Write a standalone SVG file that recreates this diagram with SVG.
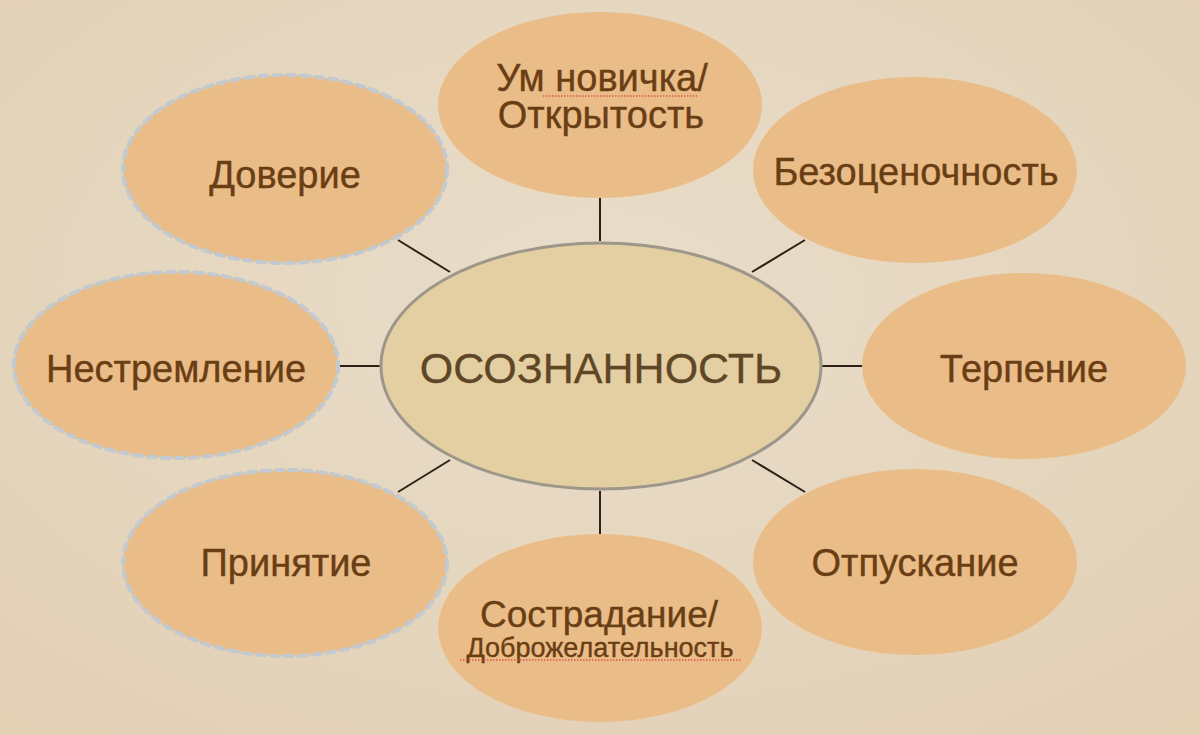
<svg xmlns="http://www.w3.org/2000/svg" width="1200" height="735" viewBox="0 0 1200 735">
<defs>
<radialGradient id="bg" cx="50%" cy="40%" r="75%">
<stop offset="0" stop-color="#e9ddca"/>
<stop offset="1" stop-color="#e2d0b5"/>
</radialGradient>
</defs>
<style>
.n{fill:#eabd88;}
.d{stroke:#c2c9cf;stroke-width:4;stroke-dasharray:8 6;stroke-linecap:round;}
.c{fill:#e3cfa1;stroke:#9d968b;stroke-width:3;}
.t{font-family:"Liberation Sans",Arial,sans-serif;fill:#6a3e14;stroke:#6a3e14;stroke-width:0.4;text-anchor:middle;}
.ct{font-family:"Liberation Sans",Arial,sans-serif;fill:#5f4626;stroke:#5f4626;stroke-width:0.3;text-anchor:middle;}
.k{stroke:#2e2218;stroke-width:2;fill:none;}
.sp{stroke:#e0564a;stroke-width:1.5;stroke-dasharray:1.5 1.5;fill:none;}
</style>
<rect width="1200" height="735" fill="url(#bg)"/>
<g id="connectors">
<line class="k" x1="600" y1="198" x2="600" y2="241"/>
<line class="k" x1="600" y1="491" x2="600" y2="534"/>
<line class="k" x1="338" y1="366" x2="380" y2="366"/>
<line class="k" x1="822" y1="366" x2="862" y2="366"/>
<line class="k" x1="398" y1="240" x2="450" y2="272"/>
<line class="k" x1="805" y1="240" x2="752" y2="272"/>
<line class="k" x1="450" y1="460" x2="398" y2="492"/>
<line class="k" x1="752" y1="460" x2="805" y2="492"/>
</g>
<g id="node-top">
<ellipse class="n" cx="600" cy="105" rx="162" ry="93"/>
<text class="t" x="602" y="91" font-size="38">Ум новичка/</text>
<text class="t" x="601" y="128" font-size="38">Открытость</text>
<line class="sp" x1="543" y1="96" x2="697" y2="96"/>
</g>
<g id="node-trust">
<ellipse class="n d" cx="285" cy="169" rx="162" ry="94"/>
<text class="t" x="285" y="188" font-size="38">Доверие</text>
</g>
<g id="node-nonjudging">
<ellipse class="n" cx="915" cy="170" rx="162" ry="93"/>
<text class="t" x="916" y="185" font-size="38">Безоценочность</text>
</g>
<g id="node-nonstriving">
<ellipse class="n d" cx="176" cy="365" rx="162" ry="93"/>
<text class="t" x="176" y="382" font-size="38">Нестремление</text>
</g>
<g id="node-patience">
<ellipse class="n" cx="1024" cy="366" rx="162" ry="93"/>
<text class="t" x="1024" y="382" font-size="38">Терпение</text>
</g>
<g id="node-acceptance">
<ellipse class="n d" cx="285" cy="563" rx="162" ry="93"/>
<text class="t" x="286" y="576" font-size="38">Принятие</text>
</g>
<g id="node-letting-go">
<ellipse class="n" cx="915" cy="562" rx="162" ry="93"/>
<text class="t" x="915" y="576" font-size="38">Отпускание</text>
</g>
<g id="node-bottom">
<ellipse class="n" cx="600" cy="628" rx="162" ry="94"/>
<text class="t" x="599" y="627" font-size="37">Сострадание/</text>
<text class="t" x="600" y="657" font-size="27">Доброжелательность</text>
<line class="sp" x1="460" y1="660" x2="742" y2="660"/>
</g>
<g id="node-center">
<ellipse class="c" cx="601" cy="366" rx="220" ry="123"/>
<text class="ct" x="601" y="383" font-size="43">ОСОЗНАННОСТЬ</text>
</g>
</svg>
